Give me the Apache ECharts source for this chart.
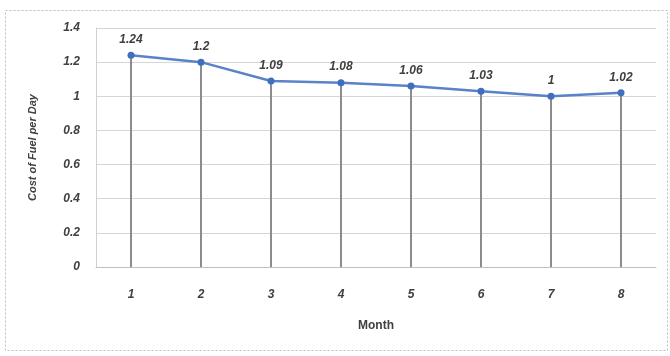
<!DOCTYPE html>
<html>
<head>
<meta charset="utf-8">
<script src="https://cdn.jsdelivr.net/npm/echarts@6/dist/echarts.min.js"></script>
<style>
html, body { margin: 0; padding: 0; background: #fff; }
#main { width: 670px; height: 356px; }
</style>
</head>
<body>
<div id="main"></div>
<script>
var months = ['1', '2', '3', '4', '5', '6', '7', '8'];
var fuelCost = [1.24, 1.2, 1.09, 1.08, 1.06, 1.03, 1, 1.02];

var chart = echarts.init(document.getElementById('main'));

var labelFont = {
    fontFamily: 'Liberation Sans',
    fontStyle: 'italic',
    fontWeight: 'bold',
    fontSize: 12,
    color: '#404040'
};

var option = {
    animation: false,
    graphic: [{
        type: 'rect',
        shape: { x: 5.5, y: 10.5, width: 662, height: 340 },
        style: { fill: 'none', stroke: '#bdbdbd', lineWidth: 1, lineDash: [2, 2] },
        silent: true
    }],
    grid: {
        left: 96,
        right: 14,
        top: 28,
        bottom: 89
    },
    xAxis: {
        type: 'category',
        data: months,
        name: 'Month',
        nameLocation: 'middle',
        nameGap: 53,
        nameTextStyle: {
            fontFamily: 'Liberation Sans',
            fontWeight: 'bold',
            fontSize: 12,
            color: '#404040'
        },
        axisLine: { lineStyle: { color: '#bfbfbf' } },
        axisTick: { show: false },
        axisLabel: Object.assign({ margin: 22 }, labelFont)
    },
    yAxis: {
        type: 'value',
        min: 0,
        max: 1.4,
        interval: 0.2,
        name: 'Cost of Fuel per Day',
        nameLocation: 'middle',
        nameGap: 58,
        nameTextStyle: {
            fontFamily: 'Liberation Sans',
            fontStyle: 'italic',
            fontWeight: 'bold',
            fontSize: 11,
            color: '#404040'
        },
        axisLine: { show: true, lineStyle: { color: '#d0d0d0' } },
        axisTick: { show: false },
        axisLabel: Object.assign({ margin: 16 }, labelFont),
        splitLine: { lineStyle: { color: '#d6d6d6' } }
    },
    series: [
        {
            name: 'drop',
            type: 'bar',
            data: fuelCost,
            barWidth: 2,
            itemStyle: { color: '#8c8c8c' },
            silent: true,
            z: 1
        },
        {
            name: 'Cost of Fuel per Day',
            type: 'line',
            data: fuelCost,
            symbol: 'circle',
            symbolSize: 7,
            lineStyle: { color: '#5b82c9', width: 2.5 },
            itemStyle: { color: '#3f6fbf' },
            label: Object.assign({ show: true, position: 'top', distance: 6 }, labelFont),
            z: 3
        }
    ]
};

chart.setOption(option);
</script>
</body>
</html>
